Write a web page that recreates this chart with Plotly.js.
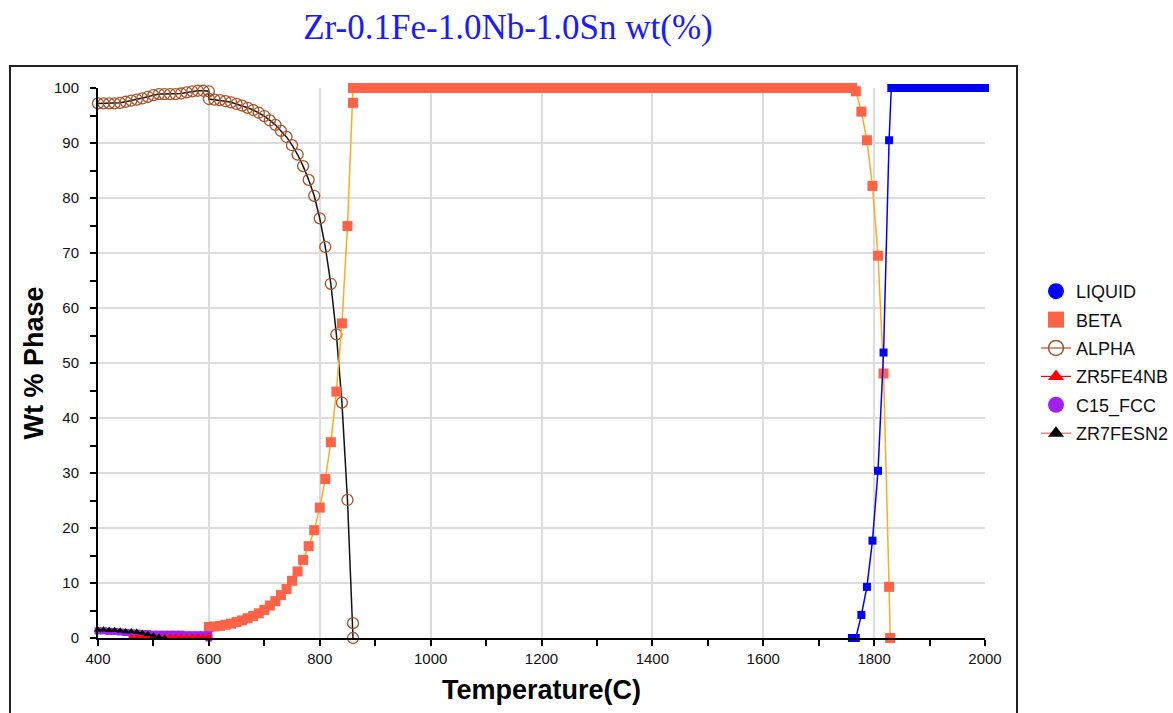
<!DOCTYPE html>
<html>
<head>
<meta charset="utf-8">
<script src="https://cdn.plot.ly/plotly-3.0.1.min.js"></script>
<style>
html,body{margin:0;padding:0;background:#fff;}
#chart{width:1173px;height:713px;}
</style>
</head>
<body>
<div id="chart"></div>
<script>
// ---- Data ----
const chartTitle = "Zr-0.1Fe-1.0Nb-1.0Sn wt(%)";
const xTitle = "Temperature(C)";
const yTitle = "Wt % Phase";

const liquidT = [1760, 1767, 1777, 1787, 1797, 1807, 1817, 1827, 1831,
  1840, 1850, 1860, 1870, 1880, 1890, 1900, 1910, 1920, 1930, 1940, 1950,
  1960, 1970, 1980, 1990, 2000];
const liquidW = [0, 0, 4.2, 9.3, 17.7, 30.4, 51.9, 90.5, 100,
  100, 100, 100, 100, 100, 100, 100, 100, 100, 100, 100, 100,
  100, 100, 100, 100, 100];

const betaT = [600, 610, 620, 630, 640, 650, 660, 670, 680, 690,
  700, 710, 720, 730, 740, 750, 760, 770, 780, 790,
  800, 810, 820, 830, 840, 850, 860, 860,
  870, 880, 890, 900, 910, 920, 930, 940, 950,
  960, 970, 980, 990, 1000, 1010, 1020, 1030, 1040, 1050,
  1060, 1070, 1080, 1090, 1100, 1110, 1120, 1130, 1140, 1150,
  1160, 1170, 1180, 1190, 1200, 1210, 1220, 1230, 1240, 1250,
  1260, 1270, 1280, 1290, 1300, 1310, 1320, 1330, 1340, 1350,
  1360, 1370, 1380, 1390, 1400, 1410, 1420, 1430, 1440, 1450,
  1460, 1470, 1480, 1490, 1500, 1510, 1520, 1530, 1540, 1550,
  1560, 1570, 1580, 1590, 1600, 1610, 1620, 1630, 1640, 1650,
  1660, 1670, 1680, 1690, 1700, 1710, 1720, 1730, 1740, 1750,
  1760, 1767, 1777, 1787, 1797, 1807, 1817, 1827, 1829];
const betaW = [2.0, 2.1, 2.2, 2.4, 2.6, 2.9, 3.2, 3.6, 4.0, 4.5,
  5.1, 5.9, 6.7, 7.8, 8.9, 10.4, 12.1, 14.2, 16.7, 19.6,
  23.7, 28.9, 35.6, 44.8, 57.2, 74.9, 97.3, 100,
  100, 100, 100, 100, 100, 100, 100, 100, 100,
  100, 100, 100, 100, 100, 100, 100, 100, 100, 100,
  100, 100, 100, 100, 100, 100, 100, 100, 100, 100,
  100, 100, 100, 100, 100, 100, 100, 100, 100, 100,
  100, 100, 100, 100, 100, 100, 100, 100, 100, 100,
  100, 100, 100, 100, 100, 100, 100, 100, 100, 100,
  100, 100, 100, 100, 100, 100, 100, 100, 100, 100,
  100, 100, 100, 100, 100, 100, 100, 100, 100, 100,
  100, 100, 100, 100, 100, 100, 100, 100, 100, 100,
  100, 99.4, 95.7, 90.5, 82.2, 69.5, 48.1, 9.3, 0];

const alphaT = [400, 410, 420, 430, 440, 450, 460, 470, 480, 490,
  500, 510, 520, 530, 540, 550, 560, 570, 580, 590, 600, 600,
  610, 620, 630, 640, 650, 660, 670, 680, 690,
  700, 710, 720, 730, 740, 750, 760, 770, 780, 790,
  800, 810, 820, 830, 840, 850, 860, 860];
const alphaW = [97.2, 97.2, 97.2, 97.2, 97.3, 97.5, 97.7, 97.9, 98.1, 98.4,
  98.7, 98.9, 98.9, 98.9, 98.9, 99.0, 99.2, 99.4, 99.5, 99.5, 99.4, 98.0,
  97.9, 97.8, 97.6, 97.4, 97.1, 96.8, 96.4, 96.0, 95.5,
  94.9, 94.1, 93.3, 92.2, 91.1, 89.6, 87.9, 85.8, 83.3, 80.4,
  76.3, 71.1, 64.4, 55.2, 42.8, 25.1, 2.7, 0];

const zr5T = [460, 470, 480, 490, 500, 510, 520, 530, 540, 550,
  560, 570, 580, 590, 600, 600];
const zr5W = [0.1, 0.2, 0.2, 0.2, 0.2, 0.2, 0.2, 0.2, 0.2, 0.2,
  0.2, 0.2, 0.2, 0.2, 0.2, 0];

const c15T = [400, 410, 420, 430, 440, 450, 460, 470, 480, 490,
  500, 510, 520, 530, 540, 550, 560, 570, 580, 590, 600, 600];
const c15W = [1.3, 1.3, 1.2, 1.2, 1.1, 1.0, 0.9, 0.9, 0.8, 0.8,
  0.7, 0.7, 0.7, 0.7, 0.7, 0.7, 0.6, 0.6, 0.6, 0.6, 0.6, 0];

const zr7T = [400, 410, 420, 430, 440, 450, 460, 470, 480, 490, 500, 510, 520];
const zr7W = [1.5, 1.5, 1.4, 1.4, 1.3, 1.2, 1.2, 1.1, 0.9, 0.7, 0.4, 0.2, 0];

const seriesNames = ["LIQUID", "BETA", "ALPHA", "ZR5FE4NB", "C15_FCC", "ZR7FESN2"];

// ---- Styles ----
const FONT = "Liberation Sans, Arial, sans-serif";
const COL = {
  liquid: "#0000ff", beta: "#ff6347", betaLine: "#ffab1e",
  alpha: "#a5532a", zr5: "#ff0000", c15: "#a020f0", zr7: "#000000"
};

const traces = [
  {x: alphaT, y: alphaW, name: seriesNames[2], mode: "lines+markers", showlegend: false,
   line: {color: "#111", width: 1.5},
   marker: {symbol: "circle-open", size: 11, color: COL.alpha, line: {width: 1.3, color: COL.alpha}}},
  {x: betaT, y: betaW, name: seriesNames[1], mode: "lines+markers", showlegend: false,
   line: {color: COL.betaLine, width: 1.5},
   marker: {symbol: "square", size: 10, color: COL.beta}},
  {x: liquidT, y: liquidW, name: seriesNames[0], mode: "lines+markers", showlegend: false,
   line: {color: COL.liquid, width: 1.5},
   marker: {symbol: "square", size: 8, color: COL.liquid}},
  {x: c15T, y: c15W, name: seriesNames[4], mode: "lines+markers", showlegend: false,
   line: {color: COL.c15, width: 1.2},
   marker: {symbol: "square", size: 7, color: COL.c15}},
  {x: zr5T, y: zr5W, name: seriesNames[3], mode: "lines+markers", showlegend: false,
   line: {color: COL.zr5, width: 1.2},
   marker: {symbol: "triangle-up", size: 7, color: COL.zr5}},
  {x: zr7T, y: zr7W, name: seriesNames[5], mode: "lines+markers", showlegend: false,
   line: {color: COL.zr7, width: 1},
   marker: {symbol: "triangle-up", size: 7, color: COL.zr7}}
];
traces.forEach(t => { t.cliponaxis = false; t.hoverinfo = "x+y+name"; });

// legend-only entries (no data drawn)
const legendStyles = [
  {mode: "markers", marker: {symbol: "circle", size: 16, color: COL.liquid}},
  {mode: "markers", marker: {symbol: "square", size: 16, color: COL.beta}},
  {mode: "lines+markers", line: {color: COL.alpha, width: 1.2},
   marker: {symbol: "circle-open", size: 15, color: COL.alpha, line: {width: 1.5, color: COL.alpha}}},
  {mode: "lines+markers", line: {color: COL.zr5, width: 1.2},
   marker: {symbol: "triangle-up", size: 14, color: COL.zr5}},
  {mode: "markers", marker: {symbol: "circle", size: 16, color: COL.c15}},
  {mode: "lines+markers", line: {color: "#e06868", width: 1.2},
   marker: {symbol: "triangle-up", size: 14, color: COL.zr7}}
];
seriesNames.forEach((n, i) => {
  traces.push(Object.assign({x: [null], y: [null], name: n, legendgroup: "g" + i,
    showlegend: true, hoverinfo: "skip"}, legendStyles[i]));
});

const axisCommon = {
  showline: true, linecolor: "#000", linewidth: 2,
  showgrid: true, gridcolor: "#dddddd", gridwidth: 2,
  zeroline: false, ticks: "outside", ticklen: 6, tickwidth: 1.5, tickcolor: "#000",
  tickfont: {family: FONT, size: 15, color: "#111"},
  automargin: false
};

const ML = 98, MR = 188;
const PW = 1173 - ML - MR;

const layout = {
  width: 1173, height: 713,
  paper_bgcolor: "#fff", plot_bgcolor: "#fff",
  margin: {l: ML, r: MR, t: 88, b: 75, pad: 0, autoexpand: false},
  title: {text: chartTitle, x: 508 / 1173, xref: "container", xanchor: "center",
    y: 1 - 27 / 713, yref: "container", yanchor: "middle",
    font: {family: "Liberation Serif, Times New Roman, serif", size: 35, color: "#1a1aff"}},
  xaxis: Object.assign({}, axisCommon, {
    range: [400, 2000], tick0: 400, dtick: 200,
    minor: {dtick: 100, ticks: "outside", ticklen: 6, tickwidth: 1.5, tickcolor: "#000", showgrid: false},
    title: {text: xTitle, standoff: 14, font: {family: FONT, size: 27, color: "#000", weight: "bold"}}
  }),
  yaxis: Object.assign({}, axisCommon, {
    range: [0, 100], tick0: 0, dtick: 10, ticklabelstandoff: 8,
    minor: {dtick: 5, ticks: "outside", ticklen: 6, tickwidth: 1.5, tickcolor: "#000", showgrid: false},
    title: {text: yTitle, standoff: 3, font: {family: FONT, size: 27, color: "#000", weight: "bold"}}
  }),
  legend: {x: (1036 - ML) / PW, xanchor: "left", y: (638 - 273) / 550, yanchor: "top",
    font: {family: FONT, size: 18, color: "#111"}, traceorder: "grouped", tracegroupgap: 2,
    bgcolor: "rgba(0,0,0,0)", borderwidth: 0, itemwidth: 30},
  shapes: [{type: "rect", xref: "paper", yref: "paper",
    x0: (10 - ML) / PW, x1: (1017 - ML) / PW, y0: (638 - 730) / 550, y1: (638 - 66) / 550,
    line: {color: "#222", width: 2}, fillcolor: "rgba(0,0,0,0)", layer: "below"}],
  showlegend: true
};

Plotly.newPlot("chart", traces, layout, {displayModeBar: false, responsive: false});
</script>
</body>
</html>
